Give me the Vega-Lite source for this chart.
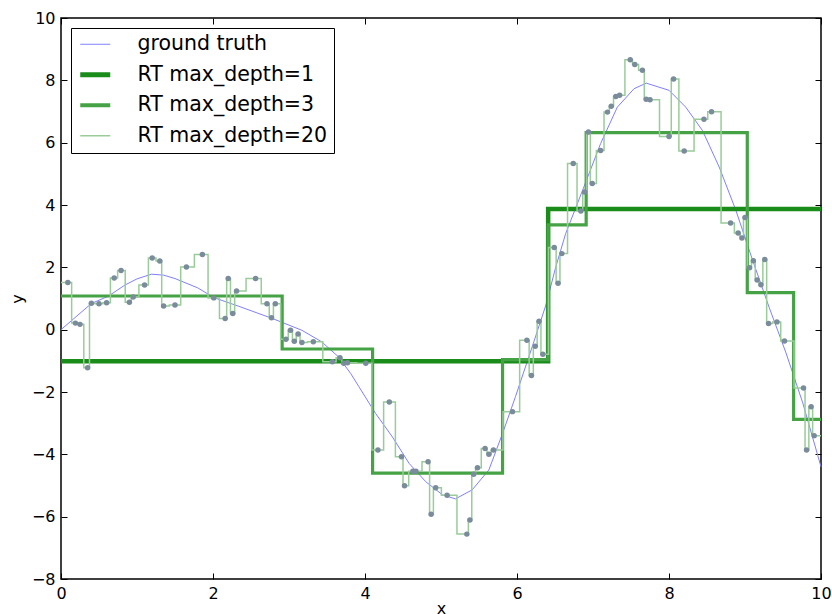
{
  "$schema": "https://vega.github.io/schema/vega-lite/v6.json",
  "width": 760,
  "height": 561,
  "autosize": {"type": "none"},
  "padding": {"left": 61, "top": 18, "right": 11, "bottom": 35},
  "background": "white",
  "config": {
    "view": {"stroke": "black", "strokeWidth": 1.5},
    "font": "DejaVu Sans",
    "axis": {
      "domain": false,
      "grid": false,
      "ticks": true,
      "tickSize": -6,
      "tickColor": "black",
      "tickWidth": 1,
      "labelFont": "DejaVu Sans",
      "labelFontSize": 16,
      "labelColor": "black",
      "labelFlush": false,
      "labelOverlap": false,
      "labelPadding": 12,
      "titleFont": "DejaVu Sans",
      "titleFontSize": 16,
      "titleFontWeight": "normal",
      "titleColor": "black"
    }
  },
  "datasets": {
    "truth": [
      {"x": 0, "y": 0}, {"x": 0.40, "y": 0.84}, {"x": 0.62, "y": 1.07}, {"x": 0.84, "y": 1.43},
      {"x": 1.0, "y": 1.63}, {"x": 1.19, "y": 1.78}, {"x": 1.35, "y": 1.75}, {"x": 1.50, "y": 1.64},
      {"x": 1.80, "y": 1.34}, {"x": 2.01, "y": 1.03}, {"x": 2.34, "y": 0.75}, {"x": 2.78, "y": 0.36},
      {"x": 3.17, "y": -0.02}, {"x": 3.43, "y": -0.39}, {"x": 3.65, "y": -0.87}, {"x": 3.81, "y": -1.40},
      {"x": 3.92, "y": -1.83}, {"x": 4.14, "y": -2.69}, {"x": 4.36, "y": -3.44}, {"x": 4.58, "y": -4.29},
      {"x": 4.80, "y": -4.88}, {"x": 5.02, "y": -5.30}, {"x": 5.19, "y": -5.43}, {"x": 5.41, "y": -5.14},
      {"x": 5.63, "y": -4.50}, {"x": 5.81, "y": -3.33}, {"x": 5.98, "y": -2.15}, {"x": 6.20, "y": -0.55},
      {"x": 6.38, "y": 0.79}, {"x": 6.51, "y": 2.01}, {"x": 6.64, "y": 3.08}, {"x": 6.88, "y": 4.58},
      {"x": 7.10, "y": 5.97}, {"x": 7.32, "y": 7.14}, {"x": 7.54, "y": 7.73}, {"x": 7.70, "y": 7.91},
      {"x": 8.00, "y": 7.68}, {"x": 8.22, "y": 7.14}, {"x": 8.44, "y": 6.39}, {"x": 8.66, "y": 5.22},
      {"x": 8.88, "y": 3.83}, {"x": 9.10, "y": 2.23}, {"x": 9.32, "y": 0.70}, {"x": 9.54, "y": -0.75},
      {"x": 9.76, "y": -2.35}, {"x": 10, "y": -4.4}
    ],
    "d1": [
      {"x": 0, "y": -1.01}, {"x": 6.41, "y": 3.87}, {"x": 10, "y": 3.87}
    ],
    "d3": [
      {"x": 0, "y": 1.08}, {"x": 2.91, "y": -0.62}, {"x": 4.10, "y": -4.60}, {"x": 5.81, "y": -0.96},
      {"x": 6.41, "y": 3.36}, {"x": 6.91, "y": 6.32}, {"x": 9.03, "y": 1.19}, {"x": 9.64, "y": -2.88},
      {"x": 10, "y": -2.88}
    ],
    "pts": [
      {"x": 0.09, "y": 1.51}, {"x": 0.19, "y": 0.21}, {"x": 0.25, "y": 0.17}, {"x": 0.35, "y": -1.22},
      {"x": 0.40, "y": 0.85}, {"x": 0.50, "y": 0.83}, {"x": 0.60, "y": 0.86}, {"x": 0.70, "y": 1.66},
      {"x": 0.79, "y": 1.90}, {"x": 0.90, "y": 0.88}, {"x": 0.95, "y": 1.05}, {"x": 1.10, "y": 1.43},
      {"x": 1.20, "y": 2.30}, {"x": 1.30, "y": 2.20}, {"x": 1.35, "y": 0.76}, {"x": 1.50, "y": 0.79},
      {"x": 1.65, "y": 2.01}, {"x": 1.86, "y": 2.41}, {"x": 2.01, "y": 1.02}, {"x": 2.16, "y": 0.36},
      {"x": 2.20, "y": 1.64}, {"x": 2.26, "y": 0.52}, {"x": 2.31, "y": 1.24}, {"x": 2.56, "y": 1.64},
      {"x": 2.71, "y": 0.83}, {"x": 2.77, "y": 0.38}, {"x": 2.82, "y": 0.83}, {"x": 2.96, "y": -0.31},
      {"x": 3.02, "y": -0.02}, {"x": 3.07, "y": -0.37}, {"x": 3.12, "y": -0.14}, {"x": 3.17, "y": -0.41},
      {"x": 3.32, "y": -0.39}, {"x": 3.57, "y": -1.03}, {"x": 3.67, "y": -0.90}, {"x": 3.72, "y": -1.08},
      {"x": 3.77, "y": -1.06}, {"x": 4.01, "y": -1.08}, {"x": 4.17, "y": -3.86}, {"x": 4.32, "y": -2.32},
      {"x": 4.48, "y": -4.08}, {"x": 4.52, "y": -5.01}, {"x": 4.63, "y": -4.54}, {"x": 4.67, "y": -4.54},
      {"x": 4.83, "y": -4.24}, {"x": 4.87, "y": -5.92}, {"x": 4.93, "y": -5.07}, {"x": 5.08, "y": -5.31},
      {"x": 5.34, "y": -6.56}, {"x": 5.38, "y": -6.11}, {"x": 5.43, "y": -4.64}, {"x": 5.48, "y": -4.43},
      {"x": 5.58, "y": -3.81}, {"x": 5.63, "y": -4.00}, {"x": 5.69, "y": -3.86}, {"x": 5.94, "y": -2.63},
      {"x": 6.13, "y": -0.34}, {"x": 6.19, "y": -1.47}, {"x": 6.24, "y": -0.53}, {"x": 6.29, "y": 0.27},
      {"x": 6.34, "y": -0.79}, {"x": 6.49, "y": 2.64}, {"x": 6.54, "y": 1.49}, {"x": 6.59, "y": 2.44},
      {"x": 6.74, "y": 5.33}, {"x": 6.84, "y": 3.81}, {"x": 6.89, "y": 4.42}, {"x": 6.94, "y": 6.34},
      {"x": 6.99, "y": 4.69}, {"x": 7.10, "y": 5.75}, {"x": 7.19, "y": 6.98}, {"x": 7.24, "y": 7.17},
      {"x": 7.30, "y": 7.48}, {"x": 7.35, "y": 7.52}, {"x": 7.49, "y": 8.66}, {"x": 7.55, "y": 8.51},
      {"x": 7.65, "y": 8.32}, {"x": 7.70, "y": 7.39}, {"x": 7.75, "y": 7.38}, {"x": 8.00, "y": 6.20},
      {"x": 8.06, "y": 8.04}, {"x": 8.20, "y": 5.73}, {"x": 8.46, "y": 6.75}, {"x": 8.56, "y": 6.99},
      {"x": 8.81, "y": 3.42}, {"x": 8.91, "y": 3.10}, {"x": 8.96, "y": 2.94}, {"x": 9.00, "y": 3.60},
      {"x": 9.06, "y": 1.99}, {"x": 9.11, "y": 2.21}, {"x": 9.16, "y": 1.59}, {"x": 9.21, "y": 1.44},
      {"x": 9.26, "y": 2.25}, {"x": 9.31, "y": 0.20}, {"x": 9.42, "y": 0.25}, {"x": 9.52, "y": -0.36},
      {"x": 9.77, "y": -1.87}, {"x": 9.81, "y": -3.86}, {"x": 9.87, "y": -2.47}, {"x": 9.91, "y": -3.40}
    ],
    "d20": [
      {"x": 0, "y": 1.51},
      {"x": 0.09, "y": 1.51}, {"x": 0.19, "y": 0.21}, {"x": 0.25, "y": 0.17}, {"x": 0.35, "y": -1.22},
      {"x": 0.40, "y": 0.85}, {"x": 0.50, "y": 0.83}, {"x": 0.60, "y": 0.86}, {"x": 0.70, "y": 1.66},
      {"x": 0.79, "y": 1.90}, {"x": 0.90, "y": 0.88}, {"x": 0.95, "y": 1.05}, {"x": 1.10, "y": 1.43},
      {"x": 1.20, "y": 2.30}, {"x": 1.30, "y": 2.20}, {"x": 1.35, "y": 0.76}, {"x": 1.50, "y": 0.79},
      {"x": 1.65, "y": 2.01}, {"x": 1.86, "y": 2.41}, {"x": 2.01, "y": 1.02}, {"x": 2.16, "y": 0.36},
      {"x": 2.20, "y": 1.64}, {"x": 2.26, "y": 0.52}, {"x": 2.31, "y": 1.24}, {"x": 2.56, "y": 1.64},
      {"x": 2.71, "y": 0.83}, {"x": 2.77, "y": 0.38}, {"x": 2.82, "y": 0.83}, {"x": 2.96, "y": -0.31},
      {"x": 3.02, "y": -0.02}, {"x": 3.07, "y": -0.37}, {"x": 3.12, "y": -0.14}, {"x": 3.17, "y": -0.41},
      {"x": 3.32, "y": -0.39}, {"x": 3.57, "y": -1.03}, {"x": 3.67, "y": -0.90}, {"x": 3.72, "y": -1.08},
      {"x": 3.77, "y": -1.06}, {"x": 4.01, "y": -1.08}, {"x": 4.17, "y": -3.86}, {"x": 4.32, "y": -2.32},
      {"x": 4.48, "y": -4.08}, {"x": 4.52, "y": -5.01}, {"x": 4.63, "y": -4.54}, {"x": 4.67, "y": -4.54},
      {"x": 4.83, "y": -4.24}, {"x": 4.87, "y": -5.92}, {"x": 4.93, "y": -5.07}, {"x": 5.08, "y": -5.31},
      {"x": 5.34, "y": -6.56}, {"x": 5.38, "y": -6.11}, {"x": 5.43, "y": -4.64}, {"x": 5.48, "y": -4.43},
      {"x": 5.58, "y": -3.81}, {"x": 5.63, "y": -4.00}, {"x": 5.69, "y": -3.86}, {"x": 5.94, "y": -2.63},
      {"x": 6.13, "y": -0.34}, {"x": 6.19, "y": -1.47}, {"x": 6.24, "y": -0.53}, {"x": 6.29, "y": 0.27},
      {"x": 6.34, "y": -0.79}, {"x": 6.49, "y": 2.64}, {"x": 6.54, "y": 1.49}, {"x": 6.59, "y": 2.44},
      {"x": 6.74, "y": 5.33}, {"x": 6.84, "y": 3.81}, {"x": 6.89, "y": 4.42}, {"x": 6.94, "y": 6.34},
      {"x": 6.99, "y": 4.69}, {"x": 7.10, "y": 5.75}, {"x": 7.19, "y": 6.98}, {"x": 7.24, "y": 7.17},
      {"x": 7.30, "y": 7.48}, {"x": 7.35, "y": 7.52}, {"x": 7.49, "y": 8.66}, {"x": 7.55, "y": 8.51},
      {"x": 7.65, "y": 8.32}, {"x": 7.70, "y": 7.39}, {"x": 7.75, "y": 7.38}, {"x": 8.00, "y": 6.20},
      {"x": 8.06, "y": 8.04}, {"x": 8.20, "y": 5.73}, {"x": 8.46, "y": 6.75}, {"x": 8.56, "y": 6.99},
      {"x": 8.81, "y": 3.42}, {"x": 8.91, "y": 3.10}, {"x": 8.96, "y": 2.94}, {"x": 9.00, "y": 3.60},
      {"x": 9.06, "y": 1.99}, {"x": 9.11, "y": 2.21}, {"x": 9.16, "y": 1.59}, {"x": 9.21, "y": 1.44},
      {"x": 9.26, "y": 2.25}, {"x": 9.31, "y": 0.20}, {"x": 9.42, "y": 0.25}, {"x": 9.52, "y": -0.36},
      {"x": 9.77, "y": -1.87}, {"x": 9.81, "y": -3.86}, {"x": 9.87, "y": -2.47}, {"x": 9.91, "y": -3.40},
      {"x": 10, "y": -3.40}
    ]
  },
  "layer": [
    {
      "data": {"name": "truth"},
      "transform": [{"calculate": "'ground truth'", "as": "s"}],
      "mark": {"type": "line", "interpolate": "linear", "strokeWidth": 1},
      "encoding": {
        "x": {"field": "x", "type": "quantitative", "scale": {"domain": [0, 10], "nice": false, "zero": false},
              "axis": {"values": [0, 2, 4, 6, 8, 10], "title": "x", "titlePadding": -1, "format": "d"}},
        "y": {"field": "y", "type": "quantitative", "scale": {"domain": [-8, 10], "nice": false, "zero": false},
              "axis": {"values": [-8, -6, -4, -2, 0, 2, 4, 6, 8, 10], "title": "y", "titlePadding": 6, "format": "d"}},
        "color": {"field": "s", "type": "nominal",
          "scale": {"domain": ["ground truth", "RT max_depth=1", "RT max_depth=3", "RT max_depth=20"],
                    "range": ["#8080ff", "#1a8c1a", "#45a345", "#99cc99"]},
          "legend": {"title": null, "orient": "none", "legendX": 10, "legendY": 10,
                     "strokeColor": "black", "fillColor": "white", "padding": 6,
                     "symbolType": "stroke", "symbolSize": 900, "symbolOffset": 8,
                     "labelOffset": 32, "labelFontSize": 20.5, "labelFont": "DejaVu Sans",
                     "labelColor": "black", "rowPadding": 9.5, "labelLimit": 400,
                     "encode": {"symbols": {"update": {"strokeWidth": {"signal": "datum.value == 'RT max_depth=1' ? 5 : datum.value == 'RT max_depth=3' ? 4 : datum.value == 'RT max_depth=20' ? 1.5 : 1"}}}}}}
      }
    },
    {
      "data": {"name": "d1"},
      "transform": [{"calculate": "'RT max_depth=1'", "as": "s"}],
      "mark": {"type": "line", "interpolate": "step-after", "strokeWidth": 4.5},
      "encoding": {
        "x": {"field": "x", "type": "quantitative", "axis": null},
        "y": {"field": "y", "type": "quantitative", "axis": null},
        "color": {"field": "s", "type": "nominal"}
      }
    },
    {
      "data": {"name": "d3"},
      "transform": [{"calculate": "'RT max_depth=3'", "as": "s"}],
      "mark": {"type": "line", "interpolate": "step-after", "strokeWidth": 3.2},
      "encoding": {
        "x": {"field": "x", "type": "quantitative", "axis": null},
        "y": {"field": "y", "type": "quantitative", "axis": null},
        "color": {"field": "s", "type": "nominal"}
      }
    },
    {
      "data": {"name": "d20"},
      "transform": [{"calculate": "'RT max_depth=20'", "as": "s"}],
      "mark": {"type": "line", "interpolate": "step", "strokeWidth": 1.5},
      "encoding": {
        "x": {"field": "x", "type": "quantitative", "axis": null},
        "y": {"field": "y", "type": "quantitative", "axis": null},
        "color": {"field": "s", "type": "nominal"}
      }
    },
    {
      "data": {"name": "pts"},
      "mark": {"type": "circle", "size": 30, "color": "#7a8b9c", "opacity": 1},
      "encoding": {
        "x": {"field": "x", "type": "quantitative",
              "axis": {"orient": "top", "values": [0, 2, 4, 6, 8, 10], "labels": false, "title": null}},
        "y": {"field": "y", "type": "quantitative",
              "axis": {"orient": "right", "values": [-8, -6, -4, -2, 0, 2, 4, 6, 8, 10], "labels": false, "title": null}}
      }
    }
  ],
  "resolve": {"axis": {"x": "independent", "y": "independent"}}
}
